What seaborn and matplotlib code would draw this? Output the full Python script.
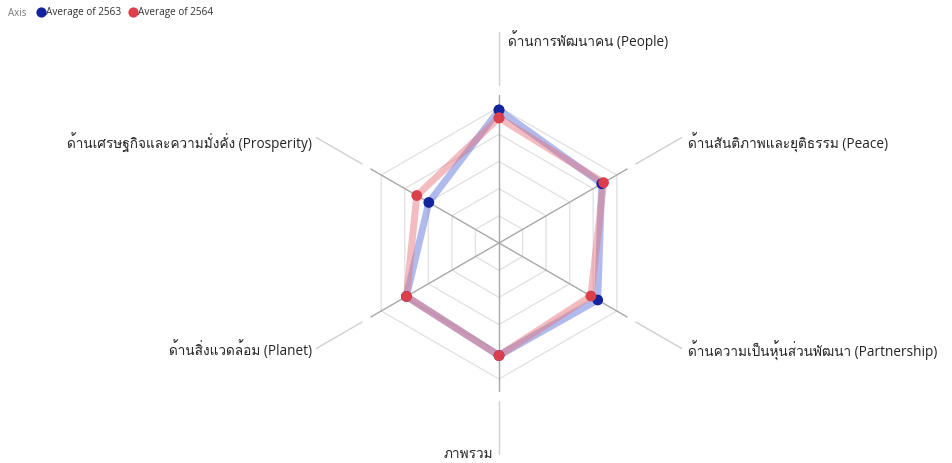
import numpy as np
import pandas as pd
import matplotlib
matplotlib.use('Agg')
import matplotlib.pyplot as plt
import seaborn as sns
from matplotlib import font_manager
from matplotlib.ft2font import FT2Font

# data (score out of 5)
categories = ['ด้านการพัฒนาคน (People)',
              'ด้านสันติภาพและยุติธรรม (Peace)',
              'ด้านความเป็นหุ้นส่วนพัฒนา (Partnership)',
              'ภาพรวม',
              'ด้านสิ่งแวดล้อม (Planet)',
              'ด้านเศรษฐกิจและความมั่งคั่ง (Prosperity)']
avg_2563 = [4.89, 4.36, 4.19, 4.14, 3.93, 2.98]
avg_2564 = [4.60, 4.44, 3.90, 4.14, 3.93, 3.49]
series_names = ['Average of 2563', 'Average of 2564']
ring_levels = [1, 2, 3, 4, 5]

sns.set_theme(style='white')

# look for an installed font that has Thai glyphs
thai_font = None
for f in font_manager.fontManager.ttflist:
    try:
        if 0x0E14 in FT2Font(f.fname).get_charmap():
            thai_font = f.name
            break
    except Exception:
        pass
families = ['Open Sans'] + ([thai_font] if thai_font else []) + ['DejaVu Sans']
plt.rcParams['font.family'] = families

W, H = 953, 463
cx, cy, R = 499, 243, 150
px = 5 / 136  # data units per pixel

fig = plt.figure(figsize=(W / 100, H / 100), dpi=100)
ax = fig.add_axes([(cx - R) / W, (H - cy - R) / H, 2 * R / W, 2 * R / H], projection='polar')
ax.set_theta_zero_location('N')
ax.set_theta_direction(-1)

n = len(categories)
theta = np.arange(n) * 2 * np.pi / n
closed = np.append(theta, theta[0])

# hexagon grid + spokes
for lv in ring_levels:
    ax.plot(closed, [lv] * (n + 1), color='#e3e3e3', lw=1, zorder=1)
for t in theta:
    ax.plot([t, t], [0, 148 * px], color='#a8a8a8', lw=1, zorder=1.5)
    ax.plot([t, t], [158 * px, 211 * px], color='#d0d0d0', lw=1, clip_on=False)

df = pd.DataFrame({
    'theta': np.concatenate([closed, closed]),
    'value': avg_2563 + [avg_2563[0]] + avg_2564 + [avg_2564[0]],
    'series': [series_names[0]] * (n + 1) + [series_names[1]] * (n + 1),
})
line_pal = {series_names[0]: '#5a70d8', series_names[1]: '#e5737d'}
dot_pal = {series_names[0]: '#13239c', series_names[1]: '#dc3f4c'}

sns.lineplot(data=df, x='theta', y='value', hue='series', palette=line_pal,
             sort=False, estimator=None, lw=5, alpha=0.48, legend=False, ax=ax, zorder=2)
sns.scatterplot(data=df, x='theta', y='value', hue='series', palette=dot_pal,
                s=60, linewidth=0, zorder=4, ax=ax, clip_on=False)

ax.set_ylim(0, R * px)
ax.set_axis_off()

# axis labels (offsets in pixels from end of leader line)
offsets = [(9, -8, 'left'), (6, -5.5, 'left'), (6, -2.5, 'left'),
           (-6, -1, 'right'), (-4, -1.5, 'right'), (-4, -5.5, 'right')]
for t, lab, (dx, dy, ha) in zip(theta, categories, offsets):
    ax.annotate(lab, xy=(t, 211 * px), xytext=(dx * 0.72, dy * 0.72),
                textcoords='offset points', ha=ha, va='center',
                fontsize=9.8, color='#252525', annotation_clip=False)

# legend at top left
handles, labels = ax.get_legend_handles_labels()
if ax.get_legend() is not None:
    ax.get_legend().remove()
fig.text(8 / W, 1 - 13 / H, 'Axis', fontsize=7, color='#777777', va='center')
fig.legend(handles, labels, loc='center left', bbox_to_anchor=(38 / W, 1 - 13 / H),
           ncol=2, frameon=False, fontsize=7.2, handlelength=0.6, handletextpad=0.25,
           columnspacing=0.8, borderpad=0, borderaxespad=0, labelcolor='#333333',
           markerscale=0.95)

fig.savefig('out.png', dpi=100)
